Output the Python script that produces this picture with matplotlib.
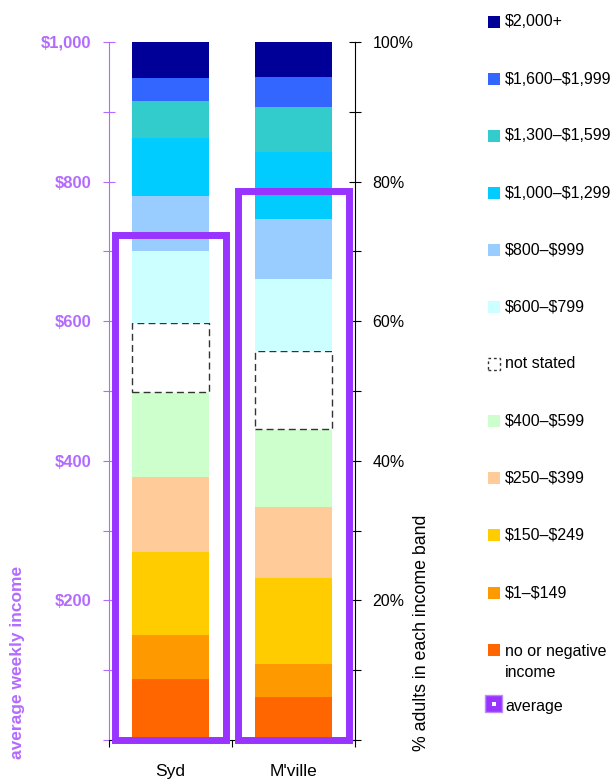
import numpy as np
import matplotlib
matplotlib.use('Agg')
import matplotlib.pyplot as plt
from matplotlib.patches import Rectangle

plt.rcParams['font.family'] = ['Liberation Sans', 'DejaVu Sans']
plt.rcParams['text.parse_math'] = False

# income bands, bottom to top of each stack
bands = ['no or negative\nincome', '$1\u2013$149', '$150\u2013$249', '$250\u2013$399',
         '$400\u2013$599', 'not stated', '$600\u2013$799', '$800\u2013$999',
         '$1,000\u2013$1,299', '$1,300\u2013$1,599', '$1,600\u2013$1,999', '$2,000+']
colors = ['#ff6600', '#ff9900', '#ffcc00', '#ffcc99', '#ccffcc', '#ffffff',
          '#ccffff', '#99ccff', '#00ccff', '#33cccc', '#3366ff', '#000099']

places = ['Syd', "M'ville"]
syd = [8.7, 6.4, 11.9, 10.7, 12.2, 9.9, 10.2, 8.0, 8.3, 5.2, 3.3, 5.2]
mville = [6.2, 4.7, 12.3, 10.2, 11.2, 11.2, 10.2, 8.6, 9.7, 6.4, 4.3, 5.0]
avg_income = [724, 787]

purple = '#9933ff'
axis_purple = '#b36bff'

W, H = 611, 781
fig = plt.figure(figsize=(W / 100, H / 100), dpi=100)
ax = fig.add_axes([109 / W, 41 / H, 246 / W, 698 / H])   # income axis (left)
ax2 = ax.twinx()                                          # percent axis (right)

xs = np.arange(len(places)) + 0.5
shares = np.array([syd, mville])
bottom = np.zeros(len(places))
for i, band in enumerate(bands):
    if band == 'not stated':
        ax2.bar(xs, shares[:, i], 0.63, bottom=bottom, color='white',
                edgecolor='#333333', linestyle=(0, (5, 3)), linewidth=1.0, zorder=2)
    else:
        ax2.bar(xs, shares[:, i], 0.63, bottom=bottom, color=colors[i], linewidth=0, zorder=2)
    bottom += shares[:, i]

ax2.set_ylim(0, 100)
ax.set_ylim(0, 1000)
ax.set_xlim(0, 2)

# average boxes on the income scale
for x, a in zip(xs, avg_income):
    ax2.add_patch(Rectangle((x - 0.45, 0), 0.9, a / 10, fill=False,
                            edgecolor=purple, linewidth=5, zorder=3, clip_on=False))

# left axis
ax.set_yticks(np.arange(0, 1001, 100))
ax.set_yticklabels(['' if (v % 200 or v == 0) else '${:,}'.format(v) for v in range(0, 1001, 100)],
                   fontsize=12, fontweight='bold', color=axis_purple)
ax.tick_params(axis='y', direction='inout', length=9, color=axis_purple, pad=8)
ax.spines['left'].set_color(axis_purple)
ax.spines['top'].set_visible(False)
ax.spines['right'].set_visible(False)

# right axis
ax2.set_yticks(np.arange(0, 101, 10))
ax2.set_yticklabels(['' if (v % 20 or v == 0) else '{}%'.format(v) for v in range(0, 101, 10)],
                    fontsize=11.5)
ax2.tick_params(axis='y', direction='inout', length=9, pad=8)
ax2.spines['top'].set_visible(False)
ax2.spines['left'].set_visible(False)
ax2.spines['bottom'].set_visible(False)

# x axis
ax.set_xticks([0, 1, 2])
ax.set_xticklabels(['', '', ''])
ax.set_xticks(xs, minor=True)
ax.set_xticklabels(places, minor=True, fontsize=12.5)
ax.tick_params(axis='x', which='major', direction='out', length=5)
ax.tick_params(axis='x', which='minor', length=0, pad=17)

fig.text(18 / W, 1 - 662 / H, 'average weekly income', rotation=90, ha='center', va='center',
         fontsize=12.5, fontweight='bold', color=axis_purple)
fig.text(421 / W, 1 - 633 / H, '% adults in each income band', rotation=90, ha='center',
         va='center', fontsize=12.8)

# legend drawn by hand in pixel positions
ys = [650, 593, 535, 478, 421, 364, 307, 250, 193, 136, 79, 22]
for band, c, y in zip(bands, colors, ys):
    if band == 'not stated':
        fig.add_artist(Rectangle((488 / W, 1 - (y + 6) / H), 12 / W, 12 / H, facecolor='white',
                                 edgecolor='#333333', linestyle=(0, (2, 2)), linewidth=1,
                                 transform=fig.transFigure))
    else:
        fig.add_artist(Rectangle((488 / W, 1 - (y + 6) / H), 12 / W, 12 / H, facecolor=c,
                                 linewidth=0, transform=fig.transFigure))
    if '\n' in band:
        fig.text(505 / W, 1 - (y + 12) / H, band, ha='left', va='center',
                 fontsize=11.5, linespacing=1.55)
    else:
        fig.text(505 / W, 1 - y / H, band, ha='left', va='center', fontsize=11.5)

fig.add_artist(Rectangle((485 / W, 1 - 712 / H), 17 / W, 17 / H, facecolor=purple,
                         edgecolor='#b88cff', linewidth=1, transform=fig.transFigure))
fig.add_artist(Rectangle((492 / W, 1 - 706 / H), 4 / W, 4 / H, facecolor='white',
                         linewidth=0, transform=fig.transFigure))
fig.text(505 / W, 1 - 707 / H, 'average', ha='left', va='center', fontsize=11.5)

fig.savefig('out.png', dpi=100)
